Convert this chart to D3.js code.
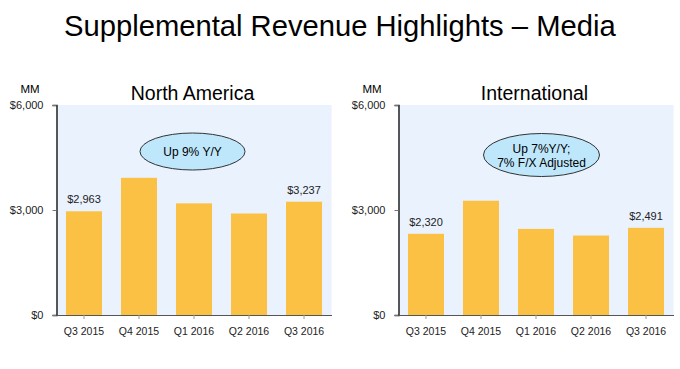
<!DOCTYPE html>
<html><head><meta charset="utf-8">
<script src="https://cdn.jsdelivr.net/npm/d3@7"></script>
<style>body{margin:0;background:#fff}svg{display:block;font-family:"Liberation Sans",Arial,sans-serif}</style>
</head><body><svg id="c" width="680" height="369"></svg>
<script>
const categories = ["Q3 2015","Q4 2015","Q1 2016","Q2 2016","Q3 2016"];
const naValues = [2963, 3920, 3190, 2900, 3237];
const intlValues = [2320, 3265, 2460, 2270, 2491];
const yTicks = [0, 3000, 6000];
const naLabels = ["$2,963", null, null, null, "$3,237"];
const intlLabels = ["$2,320", null, null, null, "$2,491"];

const svg = d3.select("#c");
svg.append("text").attr("x", 64).attr("y", 35.5).attr("font-size", 29.2).attr("fill", "#000")
  .text("Supplemental Revenue Highlights \u2013 Media");

function panel(x0, title, values, labels, bubble) {
  const left = x0, right = x0 + 275, top = 105, bottom = 315;
  const x = d3.scaleBand().domain(categories).range([left, right]).paddingInner(0.345).paddingOuter(0.172);
  const y = d3.scaleLinear().domain([0, 6000]).range([bottom, top]);
  const g = svg.append("g");
  g.append("rect").attr("x", left).attr("y", top).attr("width", right - left).attr("height", bottom - top).attr("fill", "#eaf2fe");
  g.selectAll(".bar").data(values).join("rect")
    .attr("x", (d, i) => x(categories[i])).attr("y", d => y(d))
    .attr("width", x.bandwidth()).attr("height", d => bottom - y(d)).attr("fill", "#fbc144");
  values.forEach((d, i) => {
    if (!labels[i]) return;
    g.append("text").attr("x", x(categories[i]) + x.bandwidth() / 2)
      .attr("y", y(d) - 8).attr("text-anchor", "middle").attr("font-size", 11).attr("fill", "#222")
      .text(labels[i]);
  });
  const ya = g.append("g").attr("transform", `translate(${left},0)`)
    .call(d3.axisLeft(y).tickValues(yTicks).tickSize(4).tickPadding(9).tickFormat(d => "$" + d3.format(",")(d)));
  ya.select(".domain").attr("stroke", "#222").attr("stroke-width", 1.5);
  ya.selectAll(".tick line").attr("stroke", "#777");
  ya.selectAll("text").attr("font-size", 11).attr("fill", "#222").attr("font-family", "Liberation Sans, Arial, sans-serif");
  const xa = g.append("g").attr("transform", `translate(0,${bottom})`)
    .call(d3.axisBottom(x).tickSize(4).tickPadding(9).tickSizeOuter(0));
  xa.select(".domain").attr("stroke", "#555").attr("stroke-width", 1);
  xa.selectAll(".tick line").attr("stroke", "#999");
  xa.selectAll("text").attr("font-size", 10.5).attr("fill", "#222").attr("font-family", "Liberation Sans, Arial, sans-serif");
  g.append("text").attr("x", left - 36).attr("y", 93).attr("font-size", 11.5).attr("fill", "#000").text("MM");
  g.append("text").attr("x", left + 136).attr("y", 100).attr("text-anchor", "middle").attr("font-size", 19.5).attr("fill", "#000").text(title);
  g.append("ellipse").attr("cx", bubble.cx).attr("cy", bubble.cy).attr("rx", bubble.rx).attr("ry", bubble.ry)
    .attr("fill", "#bfe7fb").attr("stroke", "#333").attr("stroke-width", 1);
  const n = bubble.lines.length;
  bubble.lines.forEach((t, i) => {
    g.append("text").attr("x", bubble.cx).attr("y", bubble.cy + 4.5 + (i - (n - 1) / 2) * 14)
      .attr("text-anchor", "middle").attr("font-size", 12).attr("fill", "#000").text(t);
  });
}
panel(56.5, "North America", naValues, naLabels, {cx: 192.5, cy: 151.5, rx: 52.5, ry: 18.5, lines: ["Up 9% Y/Y"]});
panel(398.5, "International", intlValues, intlLabels, {cx: 541.5, cy: 155, rx: 58, ry: 21.5, lines: ["Up 7%Y/Y;", "7% F/X Adjusted"]});
</script></body></html>
